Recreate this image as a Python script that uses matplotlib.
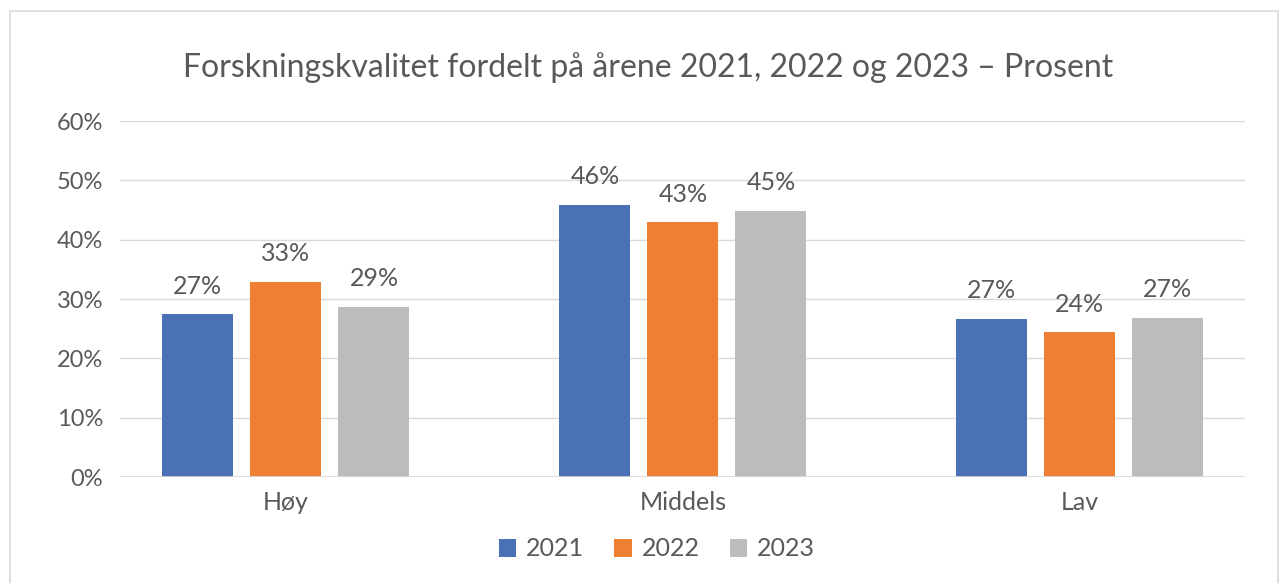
import matplotlib
matplotlib.use("Agg")
import matplotlib.pyplot as plt
import numpy as np
from matplotlib.patches import Rectangle

categories = ["Høy", "Middels", "Lav"]
years = ["2021", "2022", "2023"]
values_2021 = [27.4, 45.9, 26.7]
values_2022 = [32.9, 42.9, 24.4]
values_2023 = [28.7, 44.9, 26.8]
colors = ["#4a70b6", "#ee7f33", "#bbbcbc"]
yticks = [0, 10, 20, 30, 40, 50, 60]

plt.rcParams['font.family'] = ['Lato', 'DejaVu Sans']
text_color = "#595959"

fig = plt.figure(figsize=(12.82, 5.83), dpi=100)
ax = fig.add_axes([120 / 1282, 1 - 477 / 583, 1125 / 1282, 356 / 583])

x = np.arange(len(categories))
width = 0.179
offset = 0.2217
series = [values_2021, values_2022, values_2023]
for i, (vals, year, col) in enumerate(zip(series, years, colors)):
    pos = x + (i - 1) * offset
    ax.bar(pos, vals, width, color=col, label=year, zorder=3)
    for px, v in zip(pos, vals):
        ax.annotate(f"{round(v):d}%", (px, v), xytext=(0, 12), textcoords="offset points",
                    ha="center", va="bottom", fontsize=18, color=text_color)

ax.set_xlim(-0.418, 2.416)
ax.set_ylim(0, 60)
ax.set_yticks(yticks)
ax.set_yticklabels([f"{t}%" for t in yticks])
ax.set_xticks(x)
ax.set_xticklabels(categories)
ax.grid(axis="y", color="#d9d9d9", linewidth=1, zorder=0)
for s in ["top", "right", "left", "bottom"]:
    ax.spines[s].set_visible(False)
ax.axhline(0, color="#d9d9d9", linewidth=1.2, zorder=4)
ax.tick_params(axis="both", length=0, colors=text_color)
ax.tick_params(axis="y", pad=12, labelsize=17)
ax.tick_params(axis="x", pad=10, labelsize=18)

fig.text(648 / 1282, 1 - 68 / 583, "Forskningskvalitet fordelt på årene 2021, 2022 og 2023 – Prosent",
         ha="center", va="center", fontsize=23, color=text_color)

fig.legend(loc="center", bbox_to_anchor=(657 / 1282, 1 - 549 / 583), ncol=3, frameon=False,
           fontsize=18, labelcolor=text_color, handlelength=0.7, handleheight=0.7,
           handletextpad=0.4, columnspacing=1.2)

fig.patches.append(Rectangle((10 / 1282, -0.01), 1268 / 1282, 1 - 11 / 583 + 0.01,
                             transform=fig.transFigure, fill=False, edgecolor="#d9d9d9", linewidth=1.2))

fig.savefig("out.png", dpi=100)
